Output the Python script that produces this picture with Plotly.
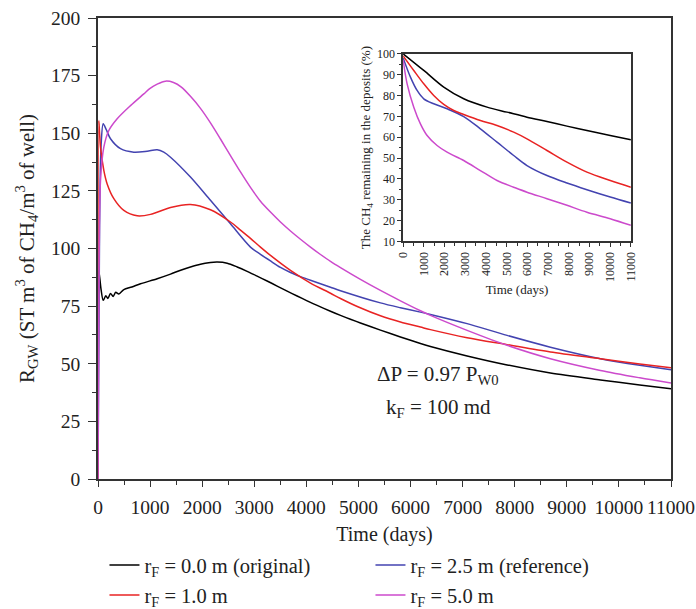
import plotly.graph_objects as go

FONT = "Liberation Serif"

# ---------------- main chart data (Time in days, R_GW) ----------------
t_black = [0, 8, 16, 60, 100, 150, 190, 240, 290, 340, 400, 496, 650, 816, 1136, 1392, 1600, 1775, 1967, 2159, 2288,
           2480, 2671, 2863, 3055, 3247, 3439, 3631, 3823, 4015, 4207, 4463, 4655, 4846, 5038, 5422, 5806, 6190,
           6382, 7086, 7854, 8685, 9645, 10400, 11000]
v_black = [0, 85, 90.5, 82, 77.5, 79.5, 78.3, 80.5, 79.2, 81, 80.3, 82.2, 83.3, 84.7, 86.9, 88.9, 90.7, 92.0, 93.2, 93.9, 94.1,
           93.6, 92.0, 90.1, 88.0, 85.9, 83.7, 81.5, 79.4, 77.3, 75.3, 72.8, 71.0, 69.3, 67.7, 64.6, 61.6, 58.8,
           57.5, 53.4, 49.5, 46.0, 43.0, 40.8, 39.2]

t_red = [0, 16, 30, 48, 112, 176, 304, 496, 752, 1008, 1392, 1775, 2159, 2543, 2735, 2927, 3119, 3311, 3695, 4079,
         4463, 4655, 5000, 5422, 5806, 6190, 6382, 7086, 7854, 8685, 9645, 10400, 11000]
v_red = [0, 155.5, 150, 144, 133.9, 128, 121.6, 116.5, 114.2, 114.8, 117.8, 119.1, 116.8, 111.5, 108.0, 104.4, 100.6, 97.0, 90.5, 85.0,
         80.6, 78.3, 74.6, 70.8, 68.1, 65.9, 64.8, 61.3, 58.3, 55.1, 52.2, 49.9, 48.3]

t_blue = [0, 30, 60, 100, 160, 240, 432, 687, 944, 1136, 1263, 1392, 1775, 2159, 2543, 2927, 3119, 3311, 3503, 3695,
          3887, 4079, 4463, 4655, 5422, 5806, 6190, 6382, 7086, 7854, 8685, 9645, 10400, 11000]
v_blue = [0, 110, 145, 154.1, 151.5, 147.6, 143.3, 141.8, 142.2, 142.8, 141.8, 139.6, 131.0, 120.9, 110.7, 100.6, 97.5, 94.6, 91.8, 89.6,
          87.8, 86.2, 83.2, 81.7, 76.4, 74.3, 72.4, 71.4, 67.4, 62.3, 57.2, 52.2, 49.3, 47.4]

t_mag = [0, 20, 48, 112, 208, 368, 624, 880, 1000, 1136, 1296, 1450, 1600, 1775, 1967, 2159, 2351, 2543, 2735, 2927,
         3119, 3311, 3503, 3695, 3887, 4079, 4271, 4463, 4655, 5038, 5422, 5806, 6190, 6382, 7086, 7854, 8685,
         9645, 10400, 11000]
v_mag = [0, 90, 129.5, 144, 151.2, 156.3, 162, 167.1, 169.5, 171.3, 172.6, 172.0, 170.0, 166.0, 160.8, 154.5, 147.5, 140.3, 133.2, 126.5,
         120.5, 115.8, 111.5, 107.6, 104.0, 100.6, 97.4, 94.4, 91.7, 86.6, 81.8, 77.3, 73.0, 71.0, 64.5, 58.0, 52.2,
         47.1, 43.9, 41.6]

# ---------------- inset data (Time in days, CH4 remaining %) ----------------
ti_black = [0, 997, 1962, 2927, 4053, 5018, 5982, 6947, 7912, 8877, 10003, 11000]
vi_black = [100, 92, 84, 78.4, 74.4, 72, 69.6, 67.5, 65.3, 63.2, 60.8, 58.8]

ti_red = [0, 515, 997, 1479, 1962, 2444, 2927, 3731, 4535, 5339, 5982, 6947, 7912, 8877, 10003, 11000]
vi_red = [99, 92, 85.6, 80, 75.7, 72.8, 70.9, 68, 65.6, 62.4, 59.2, 53.6, 48, 43.2, 39.2, 36]

ti_blue = [0, 354, 675, 997, 1479, 2123, 2927, 3731, 4535, 5339, 5982, 6947, 7912, 8877, 10003, 11000]
vi_blue = [98, 88.8, 82.4, 78.4, 76, 73.6, 69.9, 64, 57.6, 51.2, 46.4, 41.6, 38, 34.8, 31.3, 28.4]

ti_mag = [0, 193, 515, 836, 1158, 1640, 2123, 2927, 3731, 4535, 5339, 5982, 6947, 7912, 8877, 10003, 11000]
vi_mag = [97, 85.6, 74.4, 66.4, 60.8, 56, 52.8, 48.8, 44, 39.2, 36, 33.6, 30.5, 27.3, 24, 20.9, 17.7]

x_ticks = list(range(0, 11001, 1000))
x_ticktext = [str(v) for v in x_ticks]

names = ["r<sub>F</sub> = 0.0 m (original)", "r<sub>F</sub> = 2.5 m (reference)",
         "r<sub>F</sub> = 1.0 m", "r<sub>F</sub> = 5.0 m"]
colors = ["#000000", "#4343b0", "#e82323", "#cc4acc"]
legends = ["legend", "legend", "legend2", "legend2"]

main_series = [(t_black, v_black), (t_blue, v_blue), (t_red, v_red), (t_mag, v_mag)]
inset_series = [(ti_black, vi_black), (ti_blue, vi_blue), (ti_red, vi_red), (ti_mag, vi_mag)]

fig = go.Figure()
for (x, y), n, c, lg in zip(main_series, names, colors, legends):
    fig.add_trace(go.Scatter(x=x, y=y, mode="lines", name=n, legend=lg,
                             line=dict(color=c, width=1.5, shape="spline", smoothing=0.8),
                             xaxis="x", yaxis="y"))
for (x, y), n, c in zip(inset_series, names, colors):
    fig.add_trace(go.Scatter(x=x, y=y, mode="lines", name=n, showlegend=False,
                             line=dict(color=c, width=1.5, shape="spline", smoothing=0.9),
                             xaxis="x2", yaxis="y2"))

axis_common = dict(showgrid=False, zeroline=False, showline=True, linecolor="#333333",
                   ticks="outside", tickcolor="#333333", mirror=True)

legend_common = dict(orientation="h", xanchor="left", yanchor="middle",
                     entrywidth=221, entrywidthmode="pixels",
                     font=dict(size=20.5, color="#222222"), bgcolor="rgba(0,0,0,0)")

fig.update_layout(
    width=696, height=609,
    margin=dict(l=97.5, r=25.3, t=17.5, b=130.3, autoexpand=False),
    paper_bgcolor="white", plot_bgcolor="white",
    font=dict(family=FONT, size=19, color="#222222"),
    xaxis=dict(domain=[0, 1], range=[0, 11000], tickvals=x_ticks, ticktext=x_ticktext,
               ticklen=6, tickwidth=1.3, linewidth=1.5, ticklabelstandoff=4,
               minor=dict(ticks="outside", ticklen=4, dtick=500, tickcolor="#333333"),
               title=dict(text="Time (days)", font=dict(size=20), standoff=10),
               tickfont=dict(size=19.5), automargin=False, **axis_common),
    yaxis=dict(domain=[0, 1], range=[0, 200], tickvals=list(range(0, 201, 25)),
               ticklen=8, tickwidth=1.3, linewidth=1.5, ticklabelstandoff=4,
               minor=dict(ticks="outside", ticklen=4, dtick=12.5, tickcolor="#333333"),
               title=dict(text="R<sub>GW</sub> (ST m<sup>3</sup> of CH<sub>4</sub>/m<sup>3</sup> of well)",
                          font=dict(size=21), standoff=11),
               tickfont=dict(size=19.5), automargin=False, **axis_common),
    xaxis2=dict(domain=[0.5325, 0.930], anchor="y2", range=[0, 11000],
                tickvals=x_ticks, ticktext=x_ticktext, tickangle=-90,
                ticklen=4, tickwidth=1, linewidth=1.5,
                minor=dict(ticks="outside", ticklen=2.5, dtick=500, tickcolor="#333333"),
                title=dict(text="Time (days)", font=dict(size=13), standoff=4),
                tickfont=dict(size=12), automargin=False, **axis_common),
    yaxis2=dict(domain=[0.5154, 0.9224], anchor="x2", range=[10, 100],
                tickvals=list(range(10, 101, 10)),
                ticklen=4, tickwidth=1, linewidth=1.5,
                minor=dict(ticks="outside", ticklen=2.5, dtick=5, tickcolor="#333333"),
                title=dict(text="The CH<sub>4</sub> remaining in the deposits (%)", font=dict(size=13), standoff=3),
                tickfont=dict(size=12), automargin=False, **axis_common),
    legend=dict(x=0.0113, y=-0.1872, **legend_common),
    legend2=dict(x=0.0113, y=-0.2522, **legend_common),
    showlegend=True,
)

fig.add_annotation(x=0.594, y=0.192, xref="paper", yref="paper",
                   text="ΔP = 0.97 P<sub>W0</sub>", showarrow=False, font=dict(size=21))
fig.add_annotation(x=0.594, y=0.121, xref="paper", yref="paper",
                   text="k<sub>F</sub> = 100 md", showarrow=False, font=dict(size=21))

fig.write_html("out.html")
